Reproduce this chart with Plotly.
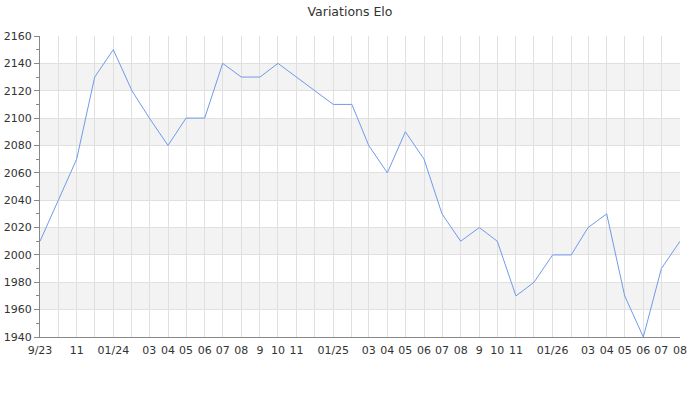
import pandas as pd
import plotly.graph_objects as go

# monthly Elo values, Sep 2023 -> Aug 2026
months = pd.date_range("2023-09-01", "2026-08-01", freq="MS")
elo = [2010, 2040, 2070, 2130, 2150, 2120, 2100, 2080, 2100, 2100, 2140, 2130,
       2130, 2140, 2130, 2120, 2110, 2110, 2080, 2060, 2090, 2070, 2030, 2010,
       2020, 2010, 1970, 1980, 2000, 2000, 2020, 2030, 1970, 1940, 1990, 2010]
month_labels = ["9/23", "", "11", "", "01/24", "", "03", "04", "05", "06", "07", "08",
                "9", "10", "11", "", "01/25", "", "03", "04", "05", "06", "07", "08",
                "9", "10", "11", "", "01/26", "", "03", "04", "05", "06", "07", "08"]
y_min, y_max, y_step = 1940, 2160, 20

fig = go.Figure()
fig.add_trace(go.Scatter(x=months, y=elo, mode="lines",
                         line=dict(color="#6f9bec", width=1), hoverinfo="x+y"))

# alternating grey bands
for lo in range(y_min + y_step, y_max, 2 * y_step):
    fig.add_shape(type="rect", xref="paper", yref="y", x0=0, x1=1, y0=lo, y1=lo + y_step,
                  fillcolor="#f3f3f3", line_width=0, layer="below")

fig.update_layout(
    width=700, height=400,
    margin=dict(l=40, r=20, t=36, b=63),
    paper_bgcolor="white", plot_bgcolor="white",
    font=dict(family="DejaVu Sans", size=11, color="#333"),
    title=dict(text="Variations Elo", x=0.5, xanchor="center", y=0.97, yanchor="middle",
               font=dict(size=12.5, color="#333")),
    showlegend=False,
)
fig.update_xaxes(range=[months[0], months[-1]], tickmode="array", tickvals=months,
                 ticktext=month_labels, tickangle=0, showgrid=True, gridcolor="#e0e0e0",
                 showline=True, linecolor="#888", ticks="", zeroline=False, automargin=False,
                 ticklabelstandoff=3)
fig.update_yaxes(range=[y_min, y_max], dtick=y_step, tick0=y_min, showgrid=True,
                 gridcolor="#e0e0e0", showline=True, linecolor="#888", ticks="outside",
                 ticklen=5, tickcolor="#888", zeroline=False, automargin=False,
                 minor=dict(dtick=10, ticks="outside", ticklen=3, tickcolor="#888", showgrid=False))

# page has a default body margin; drop it so the chart sits at the window corner
fig.write_html("out.html", config={"displayModeBar": False},
               post_script="document.body.style.margin='0';")
